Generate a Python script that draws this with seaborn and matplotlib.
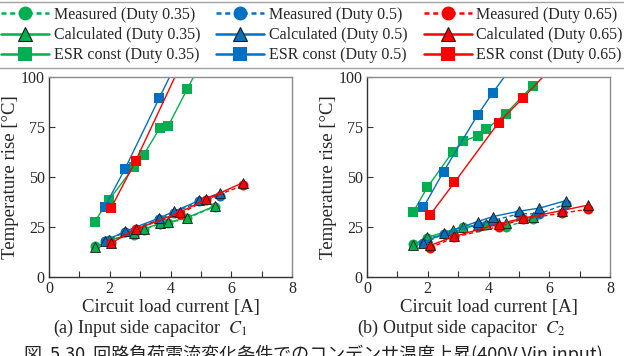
import matplotlib
matplotlib.use("Agg")
import matplotlib.pyplot as plt
from matplotlib.lines import Line2D
from matplotlib.ticker import MultipleLocator
import seaborn as sns
import pandas as pd

sns.set_theme(style="white")
plt.rcParams['font.family'] = ['Liberation Serif', 'Noto Sans CJK JP', 'DejaVu Sans']
plt.rcParams['mathtext.fontset'] = 'stix'

duties = ["0.35", "0.5", "0.65"]
colors = {"0.35": "#00B050", "0.5": "#0070C0", "0.65": "#FF0000"}

# ---- (a) Input side capacitor C1 ----
a_x_035 = [1.51, 1.97, 2.79, 3.12, 3.64, 3.92, 4.55, 5.46]
a_meas_035 = [15.6, 18.6, 20.9, 23.6, 26.6, 27.0, 29.4, 35.2]
a_calc_035 = [15.0, 18.3, 21.9, 23.9, 26.8, 27.3, 29.7, 35.5]
a_esr_035 = [27.7, 38.5, 54.8, 61.1, 74.3, 75.4, 93.9, 121.0]

a_x_05 = [1.84, 2.50, 3.63, 4.13, 4.95, 5.63]
a_meas_05 = [17.8, 22.4, 28.8, 32.2, 37.8, 40.3]
a_calc_05 = [18.0, 22.8, 29.5, 32.9, 38.3, 42.0]
a_esr_05 = [35.2, 54.0, 89.5, 105.0, 130.0, 151.0]

a_x_065 = [2.05, 2.85, 4.30, 5.16, 6.39]
a_meas_065 = [17.2, 24.2, 31.3, 38.6, 45.8]
a_calc_065 = [17.0, 23.8, 32.3, 38.8, 47.2]
a_esr_065 = [34.7, 58.0, 105.0, 133.0, 170.0]

# ---- (b) Output side capacitor C2 ----
b_x_035 = [1.53, 1.99, 2.82, 3.16, 3.64, 3.92, 4.57, 5.45]
b_meas_035 = [16.3, 19.6, 21.9, 24.9, 25.2, 26.2, 25.2, 28.9]
b_calc_035 = [16.1, 19.9, 23.6, 25.2, 25.8, 26.6, 26.9, 30.2]
b_esr_035 = [32.7, 44.9, 62.6, 67.9, 70.6, 73.8, 81.7, 95.5]

b_x_05 = [1.86, 2.52, 3.64, 4.14, 5.00, 5.67, 6.55]
b_meas_05 = [16.9, 21.4, 26.1, 28.2, 31.6, 31.6, 36.5]
b_calc_05 = [17.2, 21.8, 27.7, 30.2, 32.9, 34.4, 38.2]
b_esr_05 = [34.9, 52.7, 81.0, 92.1, 110.0, 122.0, 138.0]

b_x_065 = [2.08, 2.88, 4.33, 5.15, 6.41, 7.29]
b_meas_065 = [14.5, 19.9, 25.2, 29.0, 31.9, 33.9]
b_calc_065 = [15.8, 20.3, 26.6, 29.4, 33.2, 36.0]
b_esr_065 = [31.1, 47.3, 77.2, 89.7, 110.0, 124.0]

xticks = [0, 2, 4, 6, 8]
yticks = [0, 25, 50, 75, 100]
xlabel = "Circuit load current [A]"
ylabel = "Temperature rise [°C]"
captions = ["(a) Input side capacitor  $C_1$", "(b) Output side capacitor  $C_2$"]
fig_caption = "図  5.30  回路負荷電流変化条件でのコンデンサ温度上昇(400V Vin input)"

panels = [
    {"0.35": (a_x_035, a_meas_035, a_calc_035, a_esr_035),
     "0.5": (a_x_05, a_meas_05, a_calc_05, a_esr_05),
     "0.65": (a_x_065, a_meas_065, a_calc_065, a_esr_065)},
    {"0.35": (b_x_035, b_meas_035, b_calc_035, b_esr_035),
     "0.5": (b_x_05, b_meas_05, b_calc_05, b_esr_05),
     "0.65": (b_x_065, b_meas_065, b_calc_065, b_esr_065)},
]

fig = plt.figure(figsize=(6.24, 3.56), dpi=100)
ax_a = fig.add_axes([49/624, 1 - 277/356, 243/624, 200/356])
ax_b = fig.add_axes([367/624, 1 - 277/356, 243/624, 200/356])
caption_x = [150/624, 461/624]

for ax, pdata, cap, cx in zip([ax_a, ax_b], panels, captions, caption_x):
    for d in duties:
        x, meas, calc, esr = pdata[d]
        c = colors[d]
        sns.lineplot(x=x, y=esr, ax=ax, color=c, marker="s", markersize=6.8,
                     markeredgewidth=0, lw=1.0, sort=False, estimator=None)
    for d in duties:
        x, meas, calc, esr = pdata[d]
        c = colors[d]
        sns.lineplot(x=x, y=meas, ax=ax, color=c, marker="o", markersize=7.2,
                     markeredgewidth=0, lw=1.0, linestyle=(0, (3, 2)),
                     sort=False, estimator=None)
        sns.lineplot(x=x, y=calc, ax=ax, color=c, marker="^", markersize=6.8,
                     markeredgecolor="#1a1a1a", markeredgewidth=0.6, lw=1.0,
                     sort=False, estimator=None)
    ax.set_xlim(0, 8)
    ax.set_ylim(0, 100)
    ax.set_xticks(xticks)
    ax.set_yticks(yticks)
    ax.xaxis.set_minor_locator(MultipleLocator(1))
    ax.tick_params(axis="both", which="both", direction="in", length=4,
                   width=0.8, color="#333333", labelsize=11.5, pad=3,
                   bottom=True, left=True)
    ax.set_xlabel(xlabel, fontsize=13.5, labelpad=1)
    ax.set_ylabel(ylabel, fontsize=13.5, labelpad=1)
    for s in ["left", "bottom"]:
        ax.spines[s].set_color("#333333")
        ax.spines[s].set_linewidth(1.0)
    for s in ["top", "right"]:
        ax.spines[s].set_color("#8c8c8c")
        ax.spines[s].set_linewidth(1.0)
    ax.grid(False)
    fig.text(cx, 1 - 328/356, cap, ha="center", va="center", fontsize=13)

fig.text(24/624, 1 - 345/356, fig_caption, ha="left", va="top", fontsize=13,
         family=["Noto Sans CJK JP", "DejaVu Sans"], color="#222222")

handles = []
labels = []
for d in duties:
    c = colors[d]
    handles.append(Line2D([], [], color=c, lw=1.8, linestyle=(0, (2, 1.5)),
                          marker="o", markersize=10, markeredgewidth=0))
    labels.append(f"Measured (Duty {d})")
    handles.append(Line2D([], [], color=c, lw=1.8, marker="^", markersize=10,
                          markeredgecolor="#1a1a1a", markeredgewidth=0.8))
    labels.append(f"Calculated (Duty {d})")
    handles.append(Line2D([], [], color=c, lw=1.8, marker="s", markersize=10,
                          markeredgewidth=0))
    labels.append(f"ESR const (Duty {d})")

leg = fig.legend(handles, labels, ncol=3, loc="upper center",
                 bbox_to_anchor=(0.5, 1 - 2/356), fontsize=11.5,
                 handlelength=3.0, handletextpad=0.3, columnspacing=1.0,
                 labelspacing=0.27, borderpad=0.3, borderaxespad=0,
                 frameon=True, fancybox=False, edgecolor="#8c8c8c")
leg.get_frame().set_linewidth(1.0)

fig.savefig("out.png", dpi=100)
